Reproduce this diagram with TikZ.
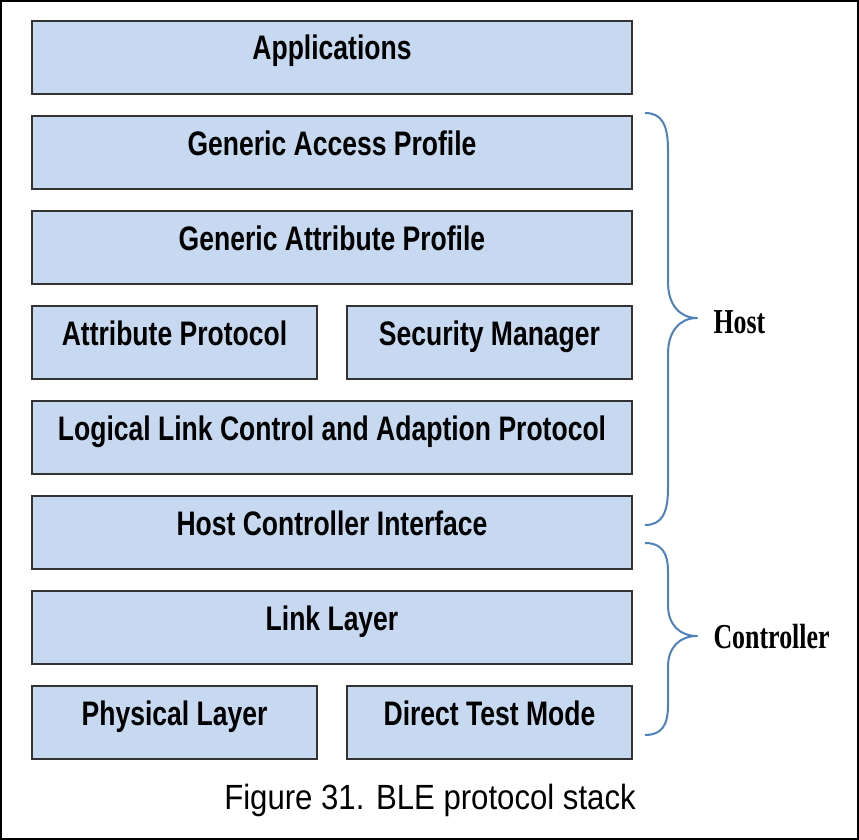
\documentclass[tikz,border=0pt]{standalone}
\usepackage{fontspec}
\usepackage{tikz}
\usetikzlibrary{positioning}
\newfontfamily\layerfont[FakeStretch=0.78]{Liberation Sans}
\newfontfamily\capfont[FakeStretch=0.89]{Liberation Sans}
\newfontfamily\sidefont[FakeStretch=0.74]{Liberation Serif}
\definecolor{layerfill}{HTML}{C6D9F1}
\definecolor{layerline}{HTML}{333333}
\definecolor{bracecol}{HTML}{4F81BD}

\begin{document}
\begin{tikzpicture}[x=1pt, y=-1pt,
    layer/.style={rectangle, draw=layerline, line width=1.5pt, fill=layerfill,
      minimum height=73pt, inner sep=0pt, text height=25pt, text depth=20pt,
      font=\layerfont\bfseries\fontsize{34}{36}\selectfont},
    wide/.style={layer, minimum width=600pt},
    half/.style={layer, minimum width=285pt},
    brace/.style={draw=bracecol, line width=2pt, line join=round},
    side/.style={anchor=west, font=\sidefont\bfseries\fontsize{35}{36}\selectfont},
    node distance=20.5pt]
  \useasboundingbox (0,0) rectangle (859,840);
  \draw [line width=2pt] (1,1) rectangle (858,839);

  % the stack
  \node [wide] (app) at (332,57.5) {Applications};
  \node [wide, below=of app] (gap) {Generic Access Profile};
  \node [wide, below=of gap] (gatt) {Generic Attribute Profile};
  \node [half, below=of gatt.south west, anchor=north west] (att) {Attribute Protocol};
  \node [half, below=of gatt.south east, anchor=north east] (sm) {Security Manager};
  \node [wide, below=of gatt, yshift=-95pt] (l2cap) {Logical Link Control and Adaption Protocol};
  \node [wide, below=of l2cap] (hci) {Host Controller Interface};
  \node [wide, below=of hci] (ll) {Link Layer};
  \node [half, below=of ll.south west, anchor=north west] (phy) {Physical Layer};
  \node [half, below=of ll.south east, anchor=north east] (dtm) {Direct Test Mode};

  % braces
  \draw [brace] (645,113) .. controls (662,113) and (668,125) .. (668,150)
    -- (668,282) .. controls (668,305) and (680,318) .. (697,318)
    .. controls (680,318) and (668,331) .. (668,354)
    -- (668,488) .. controls (668,513) and (662,525) .. (645,525);
  \draw [brace] (645,543) .. controls (662,543) and (668,553) .. (668,572)
    -- (668,605) .. controls (668,625) and (680,636) .. (697,636)
    .. controls (680,636) and (668,647) .. (668,667)
    -- (668,705) .. controls (668,725) and (662,735) .. (645,735);
  \node [side] (host) at (710,322) {Host};
  \node [side] (ctrl) at (710,637) {Controller};

  \node [font=\capfont\fontsize{35}{36}\selectfont] (caption) at (430,800) {Figure 31. BLE protocol stack};
\end{tikzpicture}
\end{document}
